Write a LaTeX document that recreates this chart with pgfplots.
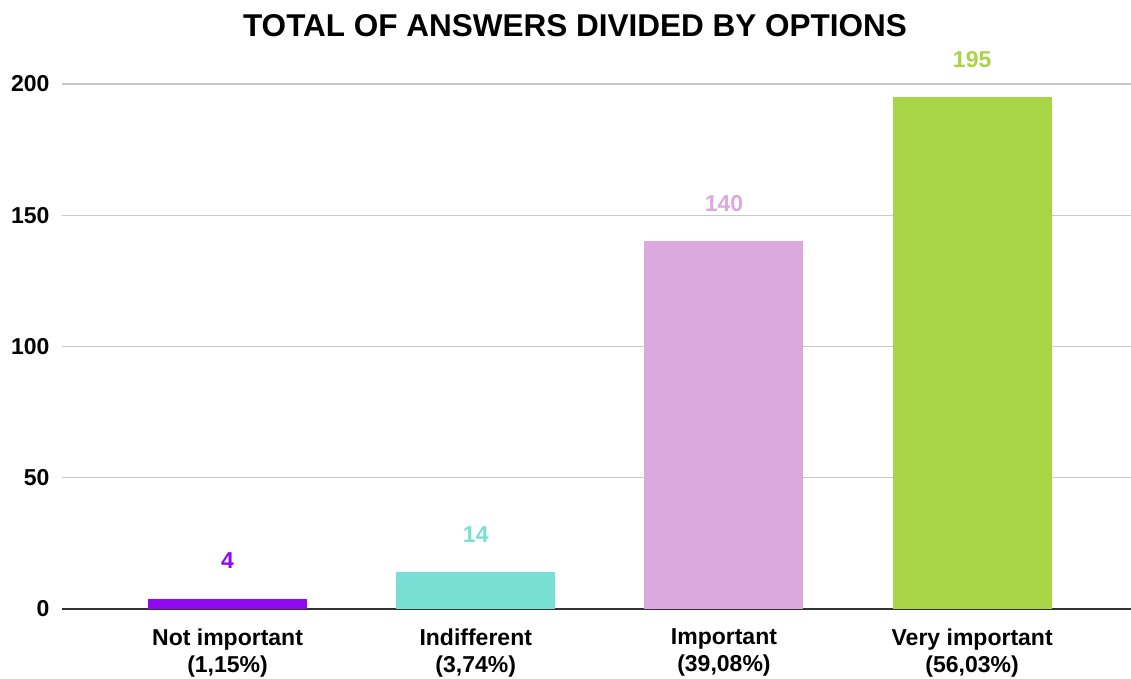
\documentclass[border=0pt]{standalone}
\usepackage{fontspec}
\setmainfont{Liberation Sans}
\usepackage{pgfplots}
\pgfplotsset{compat=1.18}
\definecolor{cpurple}{HTML}{9008EF}
\definecolor{cteal}{HTML}{78DFD4}
\definecolor{cpink}{HTML}{DCA9DE}
\definecolor{cgreen}{HTML}{A8D546}
\definecolor{cgrid}{HTML}{C8C8C8}
\definecolor{caxis}{HTML}{333333}
\begin{document}
\begin{tikzpicture}[x=1pt,y=1pt]
\useasboundingbox (0,0) rectangle (1131,678);
\node[font=\bfseries\fontsize{31.5}{36}\selectfont] at (575,652) {TOTAL OF ANSWERS DIVIDED BY OPTIONS};
\begin{axis}[
  at={(62pt,69pt)}, anchor=south west,
  scale only axis, width=1069pt, height=525pt,
  xmin=-0.667, xmax=3.64, ymin=0, ymax=200,
  clip=false,
  /pgf/number format/assume math mode=true,
  axis x line*=bottom, axis y line*=left,
  x axis line style={draw=caxis, line width=1.2pt, -},
  y axis line style={draw=none},
  major tick length=0pt,
  ytick={0,50,100,150,200},
  ymajorgrids, grid style={draw=cgrid, line width=1.2pt},
  xtick={0,1,2,3},
  xticklabels={{Not important\\(1,15\%)},{Indifferent\\(3,74\%)},{Important\\(39,08\%)},{Very important\\(56,03\%)}},
  xticklabel style={align=center, font=\bfseries\fontsize{23}{27}\selectfont, yshift=-16pt},
  yticklabel style={font=\bfseries\fontsize{23}{27}\selectfont, xshift=-9pt},
  ybar, bar width=159pt, bar shift=0pt,
  nodes near coords,
  nodes near coords style={font=\bfseries\fontsize{23}{27}\selectfont, yshift=26pt},
]
\addplot[fill=cpurple, draw=none, nodes near coords style={text=cpurple}] coordinates {(0,4)};
\addplot[fill=cteal, draw=none, nodes near coords style={text=cteal}] coordinates {(1,14)};
\addplot[fill=cpink, draw=none, nodes near coords style={text=cpink}] coordinates {(2,140)};
\addplot[fill=cgreen, draw=none, nodes near coords style={text=cgreen}] coordinates {(3,195)};
\end{axis}
\end{tikzpicture}
\end{document}
